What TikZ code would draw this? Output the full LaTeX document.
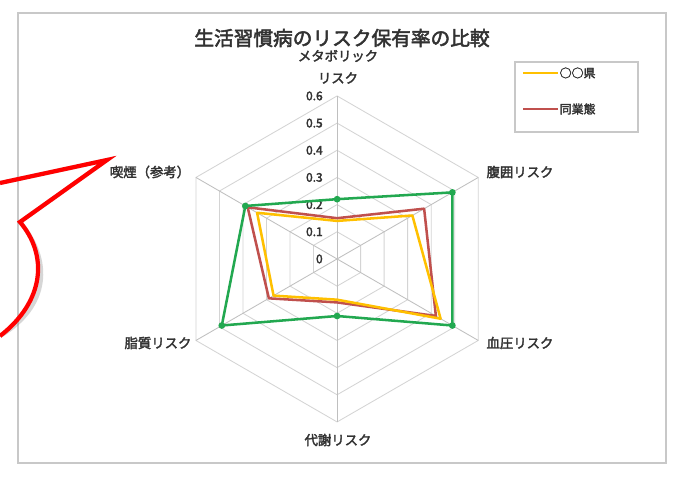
\documentclass[tikz,border=0pt]{standalone}
\usepackage{fontspec}
\setmainfont{Noto Sans CJK JP}[AutoFakeBold=2.5]
\usetikzlibrary{positioning}

\definecolor{kenyellow}{RGB}{255,192,0}
\definecolor{gyored}{RGB}{192,80,77}
\definecolor{refgreen}{RGB}{34,168,80}
\definecolor{gridgray}{RGB}{212,212,212}
\definecolor{framegray}{RGB}{200,200,200}
\definecolor{labelgray}{RGB}{50,50,50}

\tikzset{
  gridline/.style={draw=gridgray, line width=0.6pt},
  spoke/.style={draw=gridgray!90!black, line width=0.6pt},
  ticklabel/.style={text=labelgray, font=\fontsize{8.5}{9}\selectfont\bfseries, anchor=east, inner sep=0pt},
  axislabel/.style={text=labelgray, font=\fontsize{9.5}{11}\selectfont\bfseries, inner sep=1pt},
  series/.style={line width=1.8pt, line join=round},
}

\begin{document}
\begin{tikzpicture}[x=0.025cm,y=0.025cm]%
\useasboundingbox (0,0) rectangle (673,476);%
\fill[white] (0,0) rectangle (673,476);%
% chart frame
\draw[framegray, line width=1pt] (18,13) rectangle (666,463);%
\node[text=labelgray, font=\fontsize{14}{16}\selectfont\bfseries] (title) at (342,438) {生活習慣病のリスク保有率の比較};%
% radar chart
\begin{scope}[xshift=8.425cm, yshift=5.425cm, x=6.79cm, y=6.79cm]%
\foreach \r in {0.1,0.2,0.3,0.4,0.5,0.6}
  \draw[gridline] (90:\r) -- (30:\r) -- (-30:\r) -- (-90:\r) -- (-150:\r) -- (150:\r) -- cycle;%
\foreach \a in {90,30,-30,-90,-150,150}
  \draw[spoke] (0,0) -- (\a:0.6);%
\foreach \r in {0.1,0.2,0.3,0.4,0.5,0.6}
  \node[ticklabel] at (-0.052,\r) {\r};%
\node[ticklabel] (tick0) at (-0.052,0) {0};%
% data
\coordinate (ken1) at (90:0.14);%
\coordinate (ken2) at (30:0.32);%
\coordinate (ken3) at (-30:0.44);%
\coordinate (ken4) at (-90:0.15);%
\coordinate (ken5) at (-150:0.27);%
\coordinate (ken6) at (150:0.34);%
\coordinate (gyo1) at (90:0.15);%
\coordinate (gyo2) at (30:0.37);%
\coordinate (gyo3) at (-30:0.42);%
\coordinate (gyo4) at (-90:0.16);%
\coordinate (gyo5) at (-150:0.29);%
\coordinate (gyo6) at (150:0.38);%
\coordinate (grn1) at (90:0.22);%
\coordinate (grn2) at (30:0.49);%
\coordinate (grn3) at (-30:0.49);%
\coordinate (grn4) at (-90:0.21);%
\coordinate (grn5) at (-150:0.49);%
\coordinate (grn6) at (150:0.39);%
\draw[series, gyored] (gyo1) -- (gyo2) -- (gyo3) -- (gyo4) -- (gyo5) -- (gyo6) -- cycle;%
\draw[series, kenyellow] (ken1) -- (ken2) -- (ken3) -- (ken4) -- (ken5) -- (ken6) -- cycle;%
\draw[series, refgreen] (grn1) -- (grn2) -- (grn3) -- (grn4) -- (grn5) -- (grn6) -- cycle;%
\foreach \p in {grn1,grn2,grn3,grn4,grn5,grn6}
  \fill[refgreen] (\p) circle (2.4pt);%
\end{scope}%
% axis labels
\node[axislabel] (metabo) at (338,420) {メタボリック};%
\node[axislabel] (metabo2) at (338,398) {リスク};%
\node[axislabel] (fukui) at (520,304) {腹囲リスク};%
\node[axislabel] (ketsuatsu) at (520,133) {血圧リスク};%
\node[axislabel] (taisha) at (338,36) {代謝リスク};%
\node[axislabel] (shishitsu) at (158,133) {脂質リスク};%
\node[axislabel] (kitsuen) at (150,304) {喫煙（参考）};%
% legend
\draw[framegray, line width=0.8pt] (515,344) rectangle (638,414);%
\coordinate (lgk1) at (523,403);%
\coordinate (lgk2) at (558,403);%
\coordinate (lgg1) at (523,367);%
\coordinate (lgg2) at (558,367);%
\draw[series, kenyellow] (lgk1) -- (lgk2);%
\draw[series, gyored] (lgg1) -- (lgg2);%
\node[axislabel, anchor=west, font=\fontsize{8.5}{10}\selectfont\bfseries] (lgken) at (lgk2) {○○県};%
\node[axislabel, anchor=west, font=\fontsize{8.5}{10}\selectfont\bfseries] (lggyo) at (lgg2) {同業態};%
% callout
\coordinate (cA) at (0,293);%
\coordinate (cTip) at (107,316);%
\coordinate (cB) at (20,254);%
\coordinate (cC) at (0,140);%
\draw[black!45, opacity=0.35, line width=3pt, line join=miter, xshift=3, yshift=-4] (cA) -- (cTip) -- (cB) .. controls (48,221) and (45,175) .. (cC);%
\draw[red, line width=3pt, line join=miter] (cA) -- (cTip) -- (cB) .. controls (48,221) and (45,175) .. (cC);%
\end{tikzpicture}%
\end{document}
